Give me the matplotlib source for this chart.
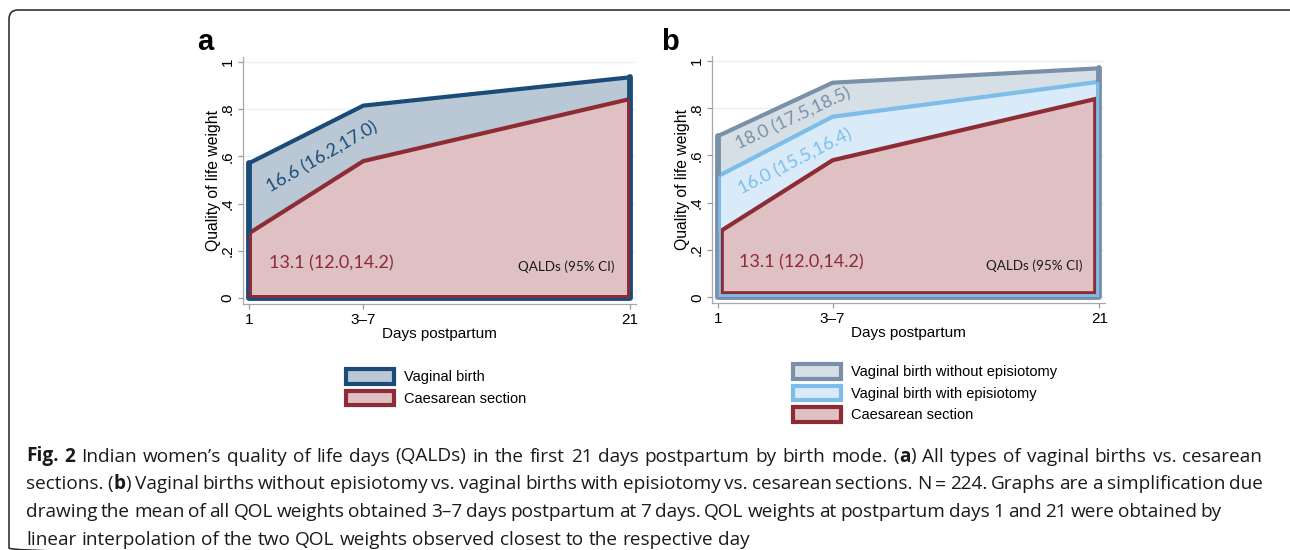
import matplotlib
matplotlib.use('Agg')
import matplotlib.pyplot as plt
from matplotlib.patches import Polygon, Patch, FancyBboxPatch
from matplotlib.transforms import Affine2D
import numpy as np

# ---------------- data ----------------
days = [1, 7, 21]
day_labels = ['1', '3–7', '21']
yticks = [0, 0.2, 0.4, 0.6, 0.8, 1.0]
ytick_labels = ['0', '.2', '.4', '.6', '.8', '1']

vaginal = [0.571, 0.815, 0.935]
caesarean = [0.274, 0.580, 0.843]
vaginal_no_epi = [0.683, 0.908, 0.969]
vaginal_epi = [0.513, 0.764, 0.912]

qald_vaginal = "16.6 (16.2,17.0)"
qald_caesarean = "13.1 (12.0,14.2)"
qald_no_epi = "18.0 (17.5,18.5)"
qald_epi = "16.0 (15.5,16.4)"

labels_a = ['Vaginal birth', 'Caesarean section']
labels_b = ['Vaginal birth without episiotomy', 'Vaginal birth with episiotomy', 'Caesarean section']

caption_lines = [
    [("Fig. 2", True), (" Indian women’s quality of life days (QALDs) in the first 21 days postpartum by birth mode. (", False),
     ("a", True), (") All types of vaginal births vs. cesarean", False)],
    [("sections. (", False), ("b", True),
     (") Vaginal births without episiotomy vs. vaginal births with episiotomy vs. cesarean sections. N = 224. Graphs are a simplification due", False)],
    [("drawing the mean of all QOL weights obtained 3–7 days postpartum at 7 days. QOL weights at postpartum days 1 and 21 were obtained by", False)],
    [("linear interpolation of the two QOL weights observed closest to the respective day", False)],
]
caption_right = [1262, 1263, 1222, None]
caption_baselines = [461.5, 489.3, 517.1, 544.9]

# ---------------- style ----------------
NAVY, NAVY_F = '#1b4b78', '#b9c8d4'
RED, RED_F = '#8e2c36', '#dfc0c3'
GREY, GREY_F = '#7990a8', '#d6dee6'
LBLUE, LBLUE_F = '#7dbde9', '#d9ebf8'
L_TOP = 3.0     # value line width (pt)
HB = 2.1        # edge band half width (pt)
AX_FONT = ['Liberation Sans', 'DejaVu Sans']
NUM_FONT = ['Lato', 'DejaVu Sans']
CAP_FONT = ['Open Sans', 'DejaVu Sans']

W_PX, H_PX = 1290, 550
fig = plt.figure(figsize=(W_PX / 100, H_PX / 100), dpi=100)
fig.patch.set_facecolor('white')
# pixel coordinates, origin top-left
px = Affine2D().scale(1 / W_PX, -1 / H_PX).translate(0, 1) + fig.transFigure


def draw_areas(ax, series):
    n = len(series)
    polys = []
    for k, (vals, ec, fc) in enumerate(series):
        xs = [days[0]] + list(days) + [days[-1]]
        ys = [0] + list(vals) + [0]
        poly = Polygon(np.column_stack([xs, ys]), closed=True, facecolor=fc,
                       edgecolor='none', zorder=2 + k * 0.1)
        ax.add_patch(poly)
        ax.plot(days, vals, color=ec, lw=L_TOP, solid_joinstyle='miter',
                solid_capstyle='round' if k == 0 else 'butt', zorder=2.05 + k * 0.1)
        polys.append(poly)
    order = [0] + list(range(n - 1, 0, -1))
    for j, k in enumerate(order):
        vals, ec, fc = series[k]
        ex = [days[0], days[0], days[-1], days[-1]]
        ey = [vals[0], 0, 0, vals[-1]]
        if k == 0:
            ax.plot(ex, ey, color=ec, lw=2 * HB, solid_joinstyle='round',
                    solid_capstyle='round', zorder=3 + j * 0.1)
        else:
            ln, = ax.plot(ex, ey, color=ec, lw=2 * k * HB, solid_joinstyle='miter',
                          solid_capstyle='projecting', zorder=3 + j * 0.1)
            ln.set_clip_path(polys[k])


def style_axes(ax):
    ax.set_xlim(0.685, 21.315)
    ax.set_ylim(-0.025, 1.021)
    ax.set_xticks(days)
    ax.set_xticklabels(day_labels, fontsize=11, family=AX_FONT)
    ax.set_yticks(yticks)
    ax.set_yticklabels(ytick_labels, fontsize=11, family=AX_FONT, rotation=90, va='center')
    ax.tick_params(axis='both', length=3.5, width=0.9, color='#9a9a9a', pad=3)
    ax.tick_params(axis='y', pad=2.5)
    for s in ['top', 'right']:
        ax.spines[s].set_visible(False)
    for s in ['left', 'bottom']:
        ax.spines[s].set_color('#a8a8a8')
        ax.spines[s].set_linewidth(0.9)
    ax.yaxis.grid(True, color='#e9f1f2', lw=1.0, zorder=0)
    ax.set_axisbelow(True)
    ax.set_xlabel('Days postpartum', fontsize=11, family=AX_FONT, labelpad=0)
    ax.set_ylabel('Quality of life weight', fontsize=11.3, family=AX_FONT, labelpad=0)
    ax.set_facecolor('white')


# ---------------- panel a ----------------
axa = fig.add_axes([243 / W_PX, 1 - 303.9 / H_PX, 393 / W_PX, 246.9 / H_PX])
draw_areas(axa, [(vaginal, NAVY, NAVY_F), (caesarean, RED, RED_F)])
style_axes(axa)
axa.text(4.82, 0.596, qald_vaginal, color=NAVY, fontsize=13, family=NUM_FONT,
         rotation=30, rotation_mode='anchor', ha='center', va='center', zorder=6)
axa.text(5.31, 0.147, qald_caesarean, color=RED, fontsize=13, family=NUM_FONT,
         ha='center', va='center', zorder=6)
axa.text(17.64, 0.134, 'QALDs (95% CI)', color='#1a1a1a', fontsize=9.7, family=NUM_FONT,
         ha='center', va='center', zorder=6)

# ---------------- panel b ----------------
axb = fig.add_axes([712.3 / W_PX, 1 - 303.2 / H_PX, 393 / W_PX, 247.2 / H_PX])
draw_areas(axb, [(vaginal_no_epi, GREY, GREY_F), (vaginal_epi, LBLUE, LBLUE_F), (caesarean, RED, RED_F)])
style_axes(axb)
axb.text(4.94, 0.756, qald_no_epi, color=GREY, fontsize=13, family=NUM_FONT,
         rotation=25, rotation_mode='anchor', ha='center', va='center', zorder=6)
axb.text(5.03, 0.575, qald_epi, color=LBLUE, fontsize=13, family=NUM_FONT,
         rotation=27, rotation_mode='anchor', ha='center', va='center', zorder=6)
axb.text(5.35, 0.148, qald_caesarean, color=RED, fontsize=13, family=NUM_FONT,
         ha='center', va='center', zorder=6)
axb.text(17.61, 0.134, 'QALDs (95% CI)', color='#1a1a1a', fontsize=9.7, family=NUM_FONT,
         ha='center', va='center', zorder=6)

# panel letters
fig.text(197, 50, 'a', fontsize=21, fontweight='bold', family=AX_FONT, va='baseline', transform=px)
fig.text(661, 50, 'b', fontsize=21, fontweight='bold', family=AX_FONT, va='baseline', transform=px)

# ---------------- legends ----------------
leg_kw = dict(frameon=False, handlelength=3.3, handleheight=1.2,
              handletextpad=0.7, labelspacing=0.42, borderpad=0, borderaxespad=0,
              loc='upper left', prop={'family': AX_FONT, 'size': 10.5})
ha = [Patch(facecolor=NAVY_F, edgecolor=NAVY, lw=3), Patch(facecolor=RED_F, edgecolor=RED, lw=3)]
fig.legend(ha, labels_a, bbox_to_anchor=(346 / W_PX, 1 - 369 / H_PX), **leg_kw)
hb = [Patch(facecolor=GREY_F, edgecolor=GREY, lw=3), Patch(facecolor=LBLUE_F, edgecolor=LBLUE, lw=3),
      Patch(facecolor=RED_F, edgecolor=RED, lw=3)]
fig.legend(hb, labels_b, bbox_to_anchor=(793 / W_PX, 1 - 364 / H_PX), **leg_kw)

# ---------------- border ----------------
border = FancyBboxPatch((9, 10), 1298 - 9, 557 - 10,
                        boxstyle='round,pad=0,rounding_size=9', transform=px,
                        facecolor='none', edgecolor='#222222', lw=1.1, clip_on=False)
fig.patches.append(border)

# ---------------- caption ----------------
renderer = fig.canvas.get_renderer()


def text_w(s, bold, size):
    t = fig.text(0, 0, s, fontsize=size, family=CAP_FONT, fontweight='bold' if bold else 'normal')
    w = t.get_window_extent(renderer).width
    t.remove()
    return w


def pieces_of(segs):
    out = []
    pending_space = False
    for s, b in segs:
        parts = s.split(' ')
        for i, p in enumerate(parts):
            if i > 0:
                pending_space = True
            if p == '':
                continue
            out.append([p, b, pending_space and len(out) > 0])
            pending_space = False
    return out


def natural(pcs, size):
    sp = text_w('a a', False, size) - text_w('aa', False, size)
    tot = sum(text_w(p, b, size) for p, b, _ in pcs)
    nsp = sum(1 for _, _, s in pcs if s)
    return tot + nsp * sp, nsp, sp


X0 = 26
size0 = 12
cap_pieces = [pieces_of(l) for l in caption_lines]
fits = []
for pcs, r in zip(cap_pieces, caption_right):
    if r is None:
        continue
    w, _, _ = natural(pcs, size0)
    fits.append(size0 * (r - X0) / w)
cap_size = min(fits) * 1.025

for pcs, r, yb in zip(cap_pieces, caption_right, caption_baselines):
    w, nsp, sp = natural(pcs, cap_size)
    extra = 0 if (r is None or nsp == 0) else (r - X0 - w) / nsp
    x = X0
    for p, b, s in pcs:
        if s:
            x += sp + extra
        fig.text(x, yb, p, fontsize=cap_size, family=CAP_FONT, transform=px,
                 fontweight='bold' if b else 'normal', color='#1a1a1a', va='baseline', ha='left')
        x += text_w(p, b, cap_size)

fig.savefig('out.png', dpi=100, facecolor='white')
